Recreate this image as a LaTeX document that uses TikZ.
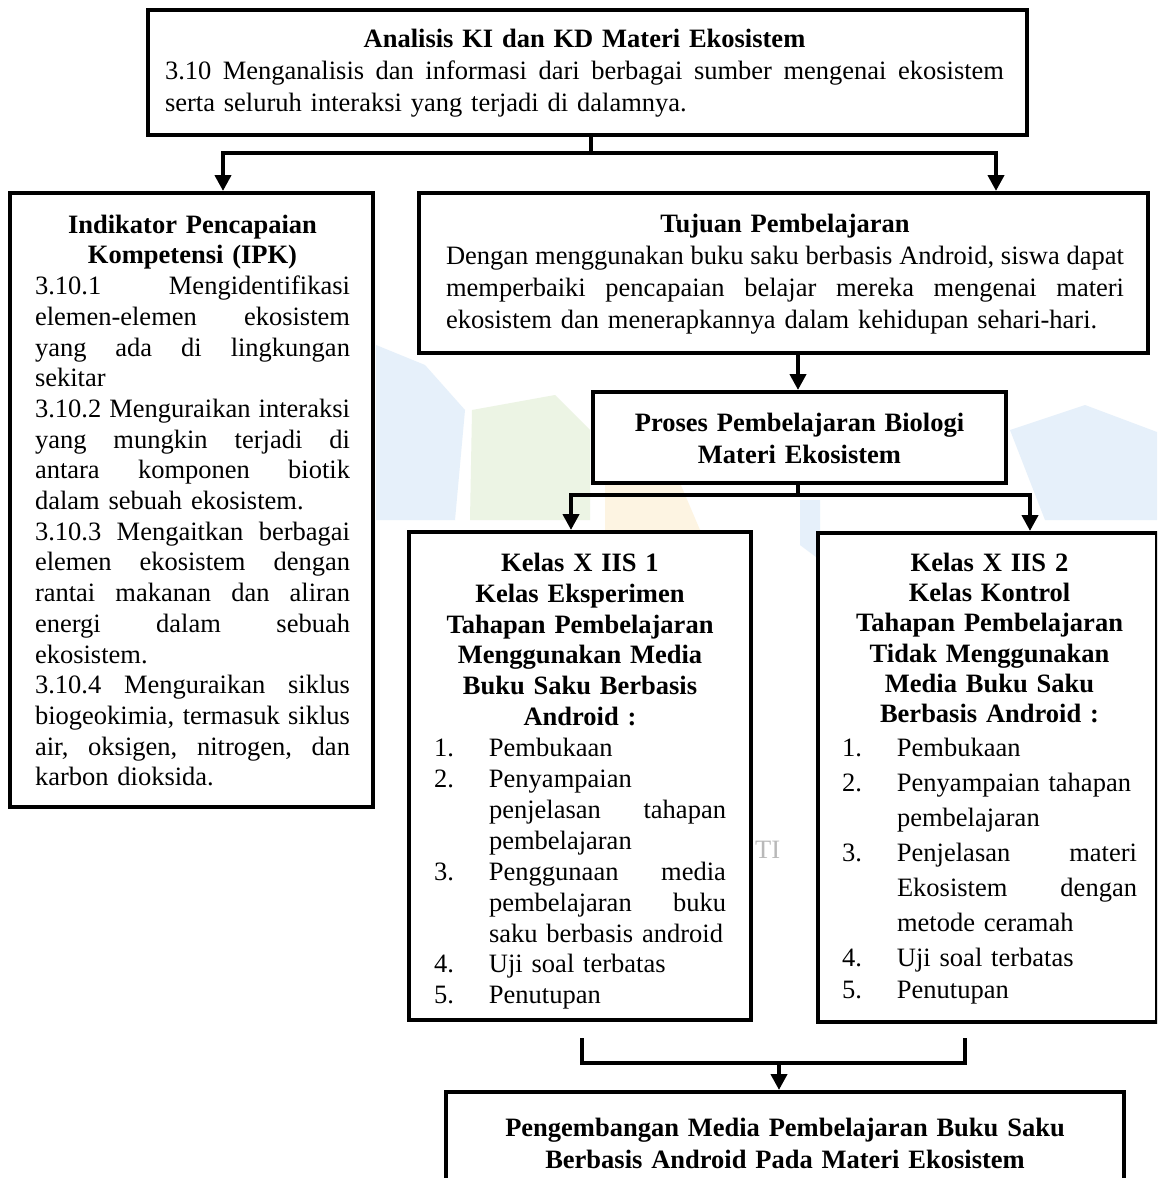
\documentclass[tikz,border=0pt]{standalone}
\usepackage{fontspec}
\setmainfont{Liberation Serif}
\usetikzlibrary{arrows.meta}
\setlength\parindent{0pt}
\definecolor{wmblue}{RGB}{230,240,250}
\definecolor{wmgreen}{RGB}{236,244,228}
\definecolor{wmyellow}{RGB}{253,244,226}
\definecolor{wmgray}{RGB}{185,185,185}
\newcommand\fst{\rule{0pt}{20pt}}
\newcommand\hdl[1]{\makebox[\linewidth][c]{\bfseries #1}}
\newcommand\jst[1]{\makebox[\linewidth][s]{\spaceskip=\fontdimen2\font plus 1fil\relax #1}}
\newcommand\lft[1]{\makebox[\linewidth][l]{#1}}
\newlength\itind
\setlength\itind{55pt}
\newcommand\itl[2]{\makebox[\linewidth][l]{\makebox[\itind][l]{#1}#2}}
\newcommand\itj[2]{\makebox[\linewidth][l]{\makebox[\itind][l]{#1}\makebox[\dimexpr\linewidth-\itind\relax][s]{\spaceskip=\fontdimen2\font plus 1fil\relax #2}}}
\newcommand\itc[1]{\makebox[\linewidth][l]{\hspace*{\itind}#1}}
\newcommand\itcj[1]{\makebox[\linewidth][l]{\hspace*{\itind}\makebox[\dimexpr\linewidth-\itind\relax][s]{\spaceskip=\fontdimen2\font plus 1fil\relax #1}}}
\tikzset{
  box/.style={draw, fill=white, line width=4pt, rectangle, inner sep=0pt},
  conn/.style={line width=4pt},
  arr/.style={line width=4pt, -{Triangle[length=16pt,width=16pt]}},
  txt/.style={inner sep=0pt, anchor=north, align=left},
}
\begin{document}
\begin{tikzpicture}[x=1pt,y=-1pt]
\useasboundingbox (0,0) rectangle (1157,1178);
\clip (0,0) rectangle (1157,1178);
\fill[white] (0,0) rectangle (1157,1178);

% faint watermark behind the boxes
\fill[wmblue] (376,345) -- (425,365) -- (465,410) -- (455,520) -- (376,520) -- cycle;
\fill[wmgreen] (472,410) -- (555,395) -- (590,430) -- (590,520) -- (470,520) -- cycle;
\fill[wmyellow] (605,485) -- (680,483) -- (700,530) -- (605,530) -- cycle;
\fill[wmblue] (1010,430) -- (1085,405) -- (1157,432) -- (1157,520) -- (1045,520) -- cycle;
\fill[wmblue] (800,500) -- (820,500) -- (820,560) -- (800,545) -- cycle;
\node[text=wmgray, inner sep=0pt, anchor=base west, font=\fontsize{26.5}{30}\selectfont] (wmt) at (755,858) {TI};

% boxes
\node[box, minimum width=879pt, minimum height=125pt] (top) at (587.5,72.5) {};
\node[box, minimum width=363pt, minimum height=614pt] (ipk) at (191.5,500) {};
\node[box, minimum width=729pt, minimum height=160pt] (tuj) at (783.5,273) {};
\node[box, minimum width=413pt, minimum height=91pt] (pro) at (799.5,437.5) {};
\node[box, minimum width=342pt, minimum height=488pt] (k1) at (580,776) {};
\node[box, minimum width=339pt, minimum height=489pt] (k2) at (987.5,777.5) {};
\node[box, minimum width=678pt, minimum height=108pt] (bot) at (785,1146) {};

% texts
\node[txt, text width=839pt, font=\fontsize{26.5}{32}\selectfont] (topt) at (584.5,27) {%
\fst\hdl{Analisis KI dan KD Materi Ekosistem}\\
\jst{3.10 Menganalisis dan informasi dari berbagai sumber mengenai ekosistem}\\
\lft{serta seluruh interaksi yang terjadi di dalamnya.}};

\node[txt, text width=315pt, font=\fontsize{26.5}{30.7}\selectfont] (ipkt) at (192.5,213) {%
\fst\hdl{Indikator Pencapaian}\\
\hdl{Kompetensi (IPK)}\\
\jst{3.10.1 Mengidentifikasi}\\
\jst{elemen-elemen ekosistem}\\
\jst{yang ada di lingkungan}\\
\lft{sekitar}\\
\jst{3.10.2 Menguraikan interaksi}\\
\jst{yang mungkin terjadi di}\\
\jst{antara komponen biotik}\\
\lft{dalam sebuah ekosistem.}\\
\jst{3.10.3 Mengaitkan berbagai}\\
\jst{elemen ekosistem dengan}\\
\jst{rantai makanan dan aliran}\\
\jst{energi dalam sebuah}\\
\lft{ekosistem.}\\
\jst{3.10.4 Menguraikan siklus}\\
\jst{biogeokimia, termasuk siklus}\\
\jst{air, oksigen, nitrogen, dan}\\
\lft{karbon dioksida.}};

\node[txt, text width=678pt, font=\fontsize{26.5}{32}\selectfont] (tujt) at (785,212) {%
\fst\hdl{Tujuan Pembelajaran}\\
\jst{Dengan menggunakan buku saku berbasis Android, siswa dapat}\\
\jst{memperbaiki pencapaian belajar mereka mengenai materi}\\
\lft{ekosistem dan menerapkannya dalam kehidupan sehari-hari.}};

\node[txt, text width=400pt, font=\fontsize{26.5}{32}\selectfont] (prot) at (799.5,411) {%
\fst\hdl{Proses Pembelajaran Biologi}\\
\hdl{Materi Ekosistem}};

\node[txt, text width=292pt, font=\fontsize{26.5}{30.9}\selectfont] (k1t) at (580,551) {%
\fst\hdl{Kelas X IIS 1}\\
\hdl{Kelas Eksperimen}\\
\hdl{Tahapan Pembelajaran}\\
\hdl{Menggunakan Media}\\
\hdl{Buku Saku Berbasis}\\
\hdl{Android :}\\
\itl{1.}{Pembukaan}\\
\itl{2.}{Penyampaian}\\
\itcj{penjelasan tahapan}\\
\itc{pembelajaran}\\
\itj{3.}{Penggunaan media}\\
\itcj{pembelajaran buku}\\
\itc{saku berbasis android}\\
\itl{4.}{Uji soal terbatas}\\
\itl{5.}{Penutupan}};

\node[txt, text width=295pt, font=\fontsize{26.5}{30.3}\selectfont] (k2t) at (989.5,551) {%
\fst\hdl{Kelas X IIS 2}\\
\hdl{Kelas Kontrol}\\
\hdl{Tahapan Pembelajaran}\\
\hdl{Tidak Menggunakan}\\
\hdl{Media Buku Saku}\\
\hdl{Berbasis Android :}\\[3.7pt]
\itl{1.}{Pembukaan}\\[4.6pt]
\itl{2.}{Penyampaian tahapan}\\[4.6pt]
\itc{pembelajaran}\\[4.6pt]
\itj{3.}{Penjelasan materi}\\[4.6pt]
\itcj{Ekosistem dengan}\\[4.6pt]
\itc{metode ceramah}\\[4.6pt]
\itl{4.}{Uji soal terbatas}\\[2pt]
\itl{5.}{Penutupan}};

\node[txt, text width=678pt, font=\fontsize{26.5}{32}\selectfont] (bott) at (785,1116) {%
\fst\hdl{Pengembangan Media Pembelajaran Buku Saku}\\
\hdl{Berbasis Android Pada Materi Ekosistem}};

% junction coordinates
\coordinate (j1) at (591,153);
\coordinate (a1) at (223,153);
\coordinate (a2) at (996,153);
\coordinate (j2) at (798,495);
\coordinate (a3) at (571,495);
\coordinate (a4) at (1030,495);
\coordinate (s1) at (582,1038);
\coordinate (s2) at (965,1038);
\coordinate (j3) at (779,1063);

% connectors
\draw[conn] (top.south -| j1) -- (j1);
\draw[arr] (j1) -- (a1) -- (ipk.north -| a1);
\draw[arr] (j1) -- (a2) -- (tuj.north -| a2);
\draw[arr] (tuj.south -| j2) -- (pro.north -| j2);
\draw[conn] (pro.south -| j2) -- (j2);
\draw[arr] (j2) -- (a3) -- (k1.north -| a3);
\draw[arr] (j2) -- (a4) -- (k2.north -| a4);
\draw[conn] (s1) -- (s1 |- j3) -- (s2 |- j3) -- (s2);
\draw[arr] (j3) -- (bot.north -| j3);
\end{tikzpicture}
\end{document}
